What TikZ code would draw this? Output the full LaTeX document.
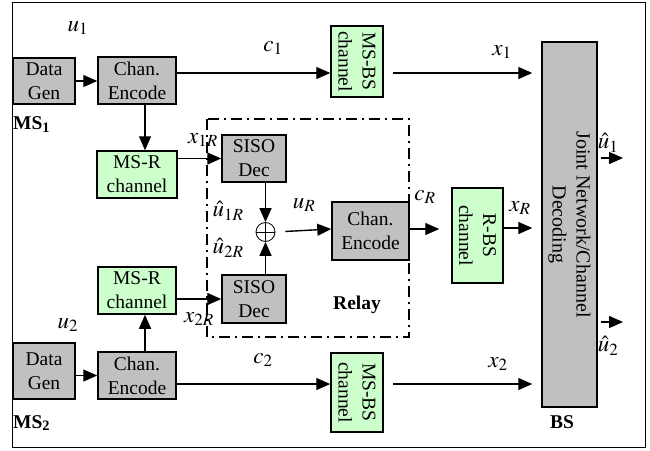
\documentclass[tikz,border=0pt]{standalone}
\usepackage{mathptmx}
\usepackage{fontspec}
\setmainfont{Liberation Serif}
\usetikzlibrary{arrows.meta,calc}
\definecolor{boxgray}{RGB}{192,192,192}
\definecolor{boxgreen}{RGB}{204,255,204}
\begin{document}
\begin{tikzpicture}[x=1pt,y=-1pt,
  box/.style={draw, line width=1.5pt, inner sep=0pt, align=center,
    font=\fontsize{19.5}{24}\selectfont},
  graybox/.style={box, fill=boxgray},
  greenbox/.style={box, fill=boxgreen},
  arr/.style={line width=1.4pt, -{Triangle[length=14pt,width=12pt]}},
  lbl/.style={font=\fontsize{23}{26}\selectfont, inner sep=0pt},
  tag/.style={font=\fontsize{19.5}{24}\selectfont\bfseries, inner sep=0pt},
  ]
\useasboundingbox (0,0) rectangle (650,450);
\draw[line width=0.8pt] (12,2) rectangle (645,447);

% relay frame
\draw[line width=1.8pt, dash pattern=on 11pt off 5pt on 2pt off 5pt] (207,119) rectangle (409,337);

% MS1
\node[graybox, minimum width=62pt, minimum height=46pt] (DG1) at (44,81) {Data\\Gen};
\node[graybox, minimum width=78pt, minimum height=47pt] (CE1) at (137,80.5) {Chan.\\Encode};
\node[greenbox, minimum width=80pt, minimum height=47pt] (MSR1) at (137,174.5) {MS-R\\channel};
\node[greenbox, rotate=-90, minimum width=71pt, minimum height=52pt] (MSBS1) at (357,61.5) {MS-BS\\channel};

% MS2
\node[graybox, minimum width=62pt, minimum height=56pt] (DG2) at (44,371) {Data\\Gen};
\node[graybox, minimum width=78pt, minimum height=47pt] (CE2) at (137,375.5) {Chan.\\Encode};
\node[greenbox, minimum width=78pt, minimum height=47pt] (MSR2) at (137,290.5) {MS-R\\channel};
\node[greenbox, rotate=-90, minimum width=79pt, minimum height=52pt] (MSBS2) at (357,392.5) {MS-BS\\channel};

% relay
\node[graybox, minimum width=64pt, minimum height=47pt] (SISO1) at (254,158.5) {SISO\\Dec};
\node[graybox, minimum width=64pt, minimum height=48pt] (SISO2) at (254,299) {SISO\\Dec};
\node[circle, draw, line width=0.8pt, minimum size=19pt, inner sep=0pt,
  path picture={\draw[line width=0.8pt] (path picture bounding box.north) -- (path picture bounding box.south)
    (path picture bounding box.west) -- (path picture bounding box.east);}] (xor) at (265.5,232) {};
\node[graybox, minimum width=77pt, minimum height=58pt] (CER) at (370.5,231) {Chan.\\Encode};
\node[greenbox, rotate=-90, minimum width=95pt, minimum height=51pt] (RBS) at (477.5,235.5) {R-BS\\channel};

% BS
\node[graybox, rotate=-90, minimum width=365pt, minimum height=55pt,
  font=\fontsize{20}{24}\selectfont] (BS) at (569.5,224.5) {Joint Network/Channel\\Decoding};

% helper coordinates
\coordinate (r1) at (0,73);
\coordinate (r2) at (0,384);
\coordinate (cx) at (145,0);
\coordinate (xr) at (0,228);
\coordinate (o1) at (623,158);
\coordinate (o2) at (623,322);
\coordinate (c1s) at (393,73);
\coordinate (c2s) at (393,384);

% connectors (rotated boxes: .south is the left side, .north the right side)
\draw[arr] (DG1.east) -- (CE1.west |- DG1.east);
\draw[arr] (CE1.east |- r1) -- (MSBS1.south |- r1);
\draw[arr, shorten >=9pt] (c1s) -- (c1s -| BS.south);
\draw[arr] (CE1.south -| cx) -- (MSR1.north -| cx);
\draw[arr] (MSR1.east |- SISO1.west) -- (SISO1.west);

\draw[arr] (DG2.east |- CE2.west) -- (CE2.west);
\draw[arr] (CE2.east |- r2) -- (MSBS2.south |- r2);
\draw[arr, shorten >=9pt] (c2s) -- (c2s -| BS.south);
\draw[arr] (CE2.north -| cx) -- (MSR2.south -| cx);
\draw[arr] (MSR2.east |- SISO2.west) -- (SISO2.west);

\draw[arr] (SISO1.south -| xor) -- (xor.north);
\draw[arr] (SISO2.north -| xor) -- (xor.south);
\draw[arr, shorten <=10pt] (xor.east) -- ([yshift=2pt]CER.west);
\draw[arr, shorten >=12pt] ([yshift=2pt]CER.east) -- ([yshift=2pt]CER.east -| RBS.south);
\draw[arr, shorten >=9pt] (RBS.north |- xr) -- (BS.south |- xr);
\draw[arr, shorten <=3pt] (BS.north |- o1) -- (o1);
\draw[arr, shorten <=3pt] (BS.north |- o2) -- (o2);

% labels
\node[lbl] (lu1) at (78,28) {$u_1$};
\node[lbl] (lc1) at (273,48) {$c_1$};
\node[lbl] (lx1) at (502,52) {$x_1$};
\node[lbl] (lx1R) at (203,140) {$x_{1R}$};
\node[lbl] (lu1R) at (228,211) {$\hat{u}_{1R}$};
\node[lbl] (lu2R) at (228,248) {$\hat{u}_{2R}$};
\node[lbl] (luR) at (304,205) {$u_R$};
\node[lbl] (lcR) at (425,197) {$c_R$};
\node[lbl] (lxR) at (520,208) {$x_R$};
\node[lbl] (lhu1) at (608,143) {$\hat{u}_1$};
\node[lbl] (lhu2) at (608,346) {$\hat{u}_2$};
\node[lbl] (lx2) at (498,364) {$x_2$};
\node[lbl] (lx2R) at (199,319) {$x_{2R}$};
\node[lbl] (lc2) at (263,360) {$c_2$};
\node[lbl] (lu2) at (68,325) {$u_2$};
\node[tag, anchor=west] (ms1) at (13,125) {MS\textsubscript{1}};
\node[tag, anchor=west] (ms2) at (13,423) {MS\textsubscript{2}};
\node[tag] (relay) at (357,305) {Relay};
\node[tag] (bs) at (562,422) {BS};
\end{tikzpicture}
\end{document}
